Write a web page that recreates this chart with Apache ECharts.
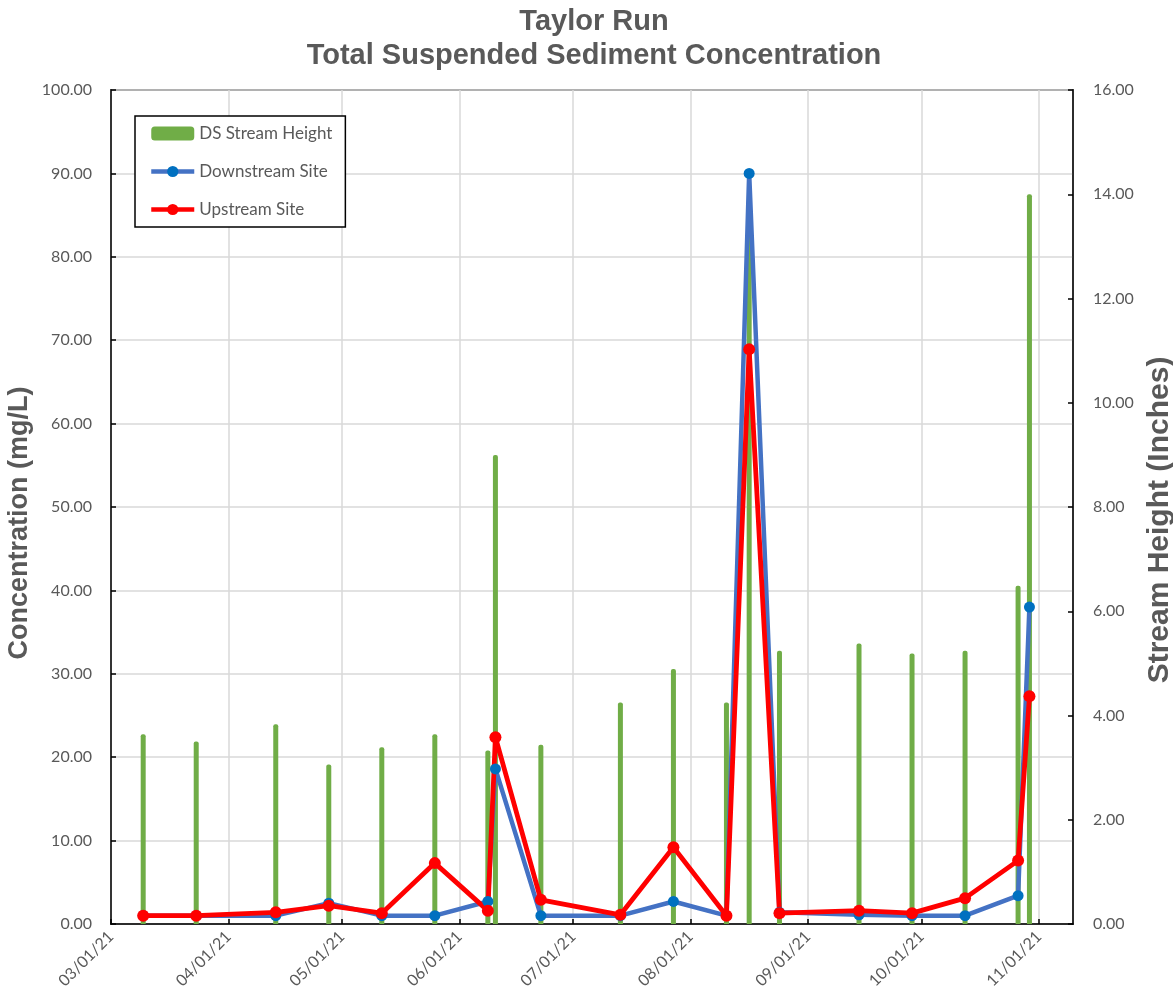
<!DOCTYPE html>
<html>
<head>
<meta charset="utf-8">
<script src="https://cdn.jsdelivr.net/npm/echarts@6/dist/echarts.min.js"></script>
<style>
  html, body { margin: 0; padding: 0; background: #fff; }
  #chart { width: 1173px; height: 1000px; }
</style>
</head>
<body>
<div id="chart"></div>
<script>
// Sampling dates (Taylor Run, 2021)
const sampleDates = [
  '2021-03-09', '2021-03-23', '2021-04-13', '2021-04-27', '2021-05-11',
  '2021-05-25', '2021-06-08', '2021-06-10', '2021-06-22', '2021-07-13',
  '2021-07-27', '2021-08-10', '2021-08-16', '2021-08-24', '2021-09-14',
  '2021-09-28', '2021-10-12', '2021-10-26', '2021-10-29'
];

// Downstream stream height (inches)
const streamHeight = [
  3.64, 3.50, 3.83, 3.06, 3.39,
  3.64, 3.33, 9.00, 3.44, 4.25,
  4.89, 4.25, 13.50, 5.24, 5.38,
  5.19, 5.24, 6.49, 14.00
];

// Total suspended sediment concentration (mg/L)
const downstreamTSS = [
  1.0, 1.0, 1.0, 2.5, 1.0,
  1.0, 2.7, 18.6, 1.0, 1.0,
  2.7, 1.0, 90.0, 1.4, 1.1,
  1.0, 1.0, 3.4, 38.0
];
const upstreamTSS = [
  1.0, 1.0, 1.4, 2.2, 1.3,
  7.3, 1.6, 22.4, 2.9, 1.1,
  9.2, 1.0, 68.9, 1.3, 1.6,
  1.3, 3.1, 7.6, 27.3
];

// Axis ranges
const dateRange = ['2021-03-01', '2021-11-10'];
const concentrationAxis = { min: 0, max: 100, step: 10 };
const heightAxis = { min: 0, max: 16, step: 2 };

const TEXT = '#595959';
const LABEL_FONT = 'Lato, "Open Sans", sans-serif';
const TITLE_FONT = '"Liberation Sans", Arial, sans-serif';
const HOUR = 3600 * 1000;
const DAY = 24 * HOUR;

function dayStart(d) {
  const [y, m, dd] = d.split('-').map(Number);
  return new Date(y, m - 1, dd).getTime();
}
// each sample sits in the middle of its day on the date axis
const toTime = d => dayStart(d) + 12 * HOUR;
function pad(n) { return (n < 10 ? '0' : '') + n; }
function fmtDate(v) {
  const d = new Date(v);
  return pad(d.getMonth() + 1) + '/' + pad(d.getDate()) + '/' + pad(d.getFullYear() % 100);
}

const times = sampleDates.map(toTime);
const zip = vals => times.map((t, i) => [t, vals[i]]);

const GREEN = '#70AD47';

// thin stream-height columns, drawn on the right-hand axis
function renderColumn(params, api) {
  const top = api.coord([api.value(0), api.value(1)]);
  const base = api.coord([api.value(0), 0]);
  const w = 5;
  return {
    type: 'rect',
    shape: { x: top[0] - w / 2, y: top[1], width: w, height: base[1] - top[1], r: [2, 2, 0, 0] },
    style: { fill: GREEN }
  };
}

const chart = echarts.init(document.getElementById('chart'), null, { renderer: 'canvas' });

chart.setOption({
  animation: false,
  backgroundColor: '#fff',
  title: {
    text: 'Taylor Run\nTotal Suspended Sediment Concentration',
    left: 589,
    top: 0,
    textAlign: 'center',
    textStyle: {
      fontFamily: TITLE_FONT, fontSize: 29, fontWeight: 'bold',
      color: TEXT, lineHeight: 34
    }
  },
  legend: {
    orient: 'vertical',
    left: 135,
    top: 116,
    padding: [9, 13, 9, 14],
    itemGap: 21,
    itemWidth: 43,
    itemHeight: 14,
    backgroundColor: '#fff',
    borderColor: '#000',
    borderWidth: 1.5,
    borderRadius: 0,
    textStyle: { fontFamily: LABEL_FONT, fontSize: 17, color: TEXT, lineHeight: 16 },
    data: [
      { name: 'DS Stream Height', icon: 'roundRect', itemStyle: { color: GREEN } },
      { name: 'Downstream Site', lineStyle: { width: 4.5, color: '#4472C4' }, itemStyle: { color: '#0070C0' } },
      { name: 'Upstream Site', lineStyle: { width: 4.5, color: '#FF0000' }, itemStyle: { color: '#FF0000' } }
    ]
  },
  grid: {
    left: 111, right: 100, top: 90, bottom: 76,
    outerBoundsMode: 'none',
    containLabel: false,
    show: true, borderColor: '#000', borderWidth: 1.5, backgroundColor: 'transparent'
  },
  xAxis: {
    type: 'time',
    min: dayStart(dateRange[0]),
    max: dayStart(dateRange[1]),
    minInterval: 28 * DAY,
    maxInterval: 31 * DAY,
    axisLine: { show: true, lineStyle: { color: '#000', width: 1.5 } },
    axisTick: { show: true, inside: true, length: 5, lineStyle: { color: '#000', width: 1.5 } },
    splitLine: { show: true, lineStyle: { color: '#d9d9d9', width: 1.5 } },
    axisLabel: {
      rotate: 45, margin: 10, fontFamily: LABEL_FONT, fontSize: 16, color: TEXT,
      showMinLabel: true, showMaxLabel: false,
      formatter: v => fmtDate(v)
    }
  },
  yAxis: [
    {
      type: 'value',
      position: 'left',
      min: concentrationAxis.min, max: concentrationAxis.max, interval: concentrationAxis.step,
      name: 'Concentration (mg/L)',
      nameLocation: 'middle',
      nameGap: 78,
      nameMoveOverlap: false,
      nameTextStyle: {
        fontFamily: TITLE_FONT, fontSize: 27, fontWeight: 'bold', color: TEXT,
        padding: [0, 32, 0, 0]
      },
      axisLine: { show: true, lineStyle: { color: '#000', width: 1.5 } },
      axisTick: { show: true, inside: true, length: 5, lineStyle: { color: '#000', width: 1.5 } },
      splitLine: { show: true, lineStyle: { color: '#d9d9d9', width: 1.5 } },
      axisLabel: {
        margin: 19, fontFamily: LABEL_FONT, fontSize: 16, color: TEXT,
        formatter: v => v.toFixed(2)
      }
    },
    {
      type: 'value',
      position: 'right',
      min: heightAxis.min, max: heightAxis.max, interval: heightAxis.step,
      name: 'Stream Height (Inches)',
      nameLocation: 'middle',
      nameGap: 72,
      nameMoveOverlap: false,
      nameTextStyle: {
        fontFamily: TITLE_FONT, fontSize: 30, fontWeight: 'bold', color: TEXT,
        padding: [0, 26, 0, 0]
      },
      axisLine: { show: true, lineStyle: { color: '#000', width: 1.5 } },
      axisTick: { show: true, inside: true, length: 5, lineStyle: { color: '#000', width: 1.5 } },
      splitLine: { show: false },
      axisLabel: {
        margin: 20, fontFamily: LABEL_FONT, fontSize: 16, color: TEXT,
        formatter: v => v.toFixed(2)
      }
    }
  ],
  series: [
    {
      name: 'DS Stream Height',
      type: 'custom',
      yAxisIndex: 1,
      renderItem: renderColumn,
      encode: { x: 0, y: 1 },
      itemStyle: { color: GREEN },
      data: zip(streamHeight)
    },
    {
      name: 'Downstream Site',
      type: 'line',
      yAxisIndex: 0,
      symbol: 'circle',
      symbolSize: 11,
      itemStyle: { color: '#0070C0' },
      lineStyle: { color: '#4472C4', width: 4.5 },
      data: zip(downstreamTSS)
    },
    {
      name: 'Upstream Site',
      type: 'line',
      yAxisIndex: 0,
      symbol: 'circle',
      symbolSize: 12,
      itemStyle: { color: '#FF0000' },
      lineStyle: { color: '#FF0000', width: 4.8 },
      data: zip(upstreamTSS)
    }
  ]
});
</script>
</body>
</html>
